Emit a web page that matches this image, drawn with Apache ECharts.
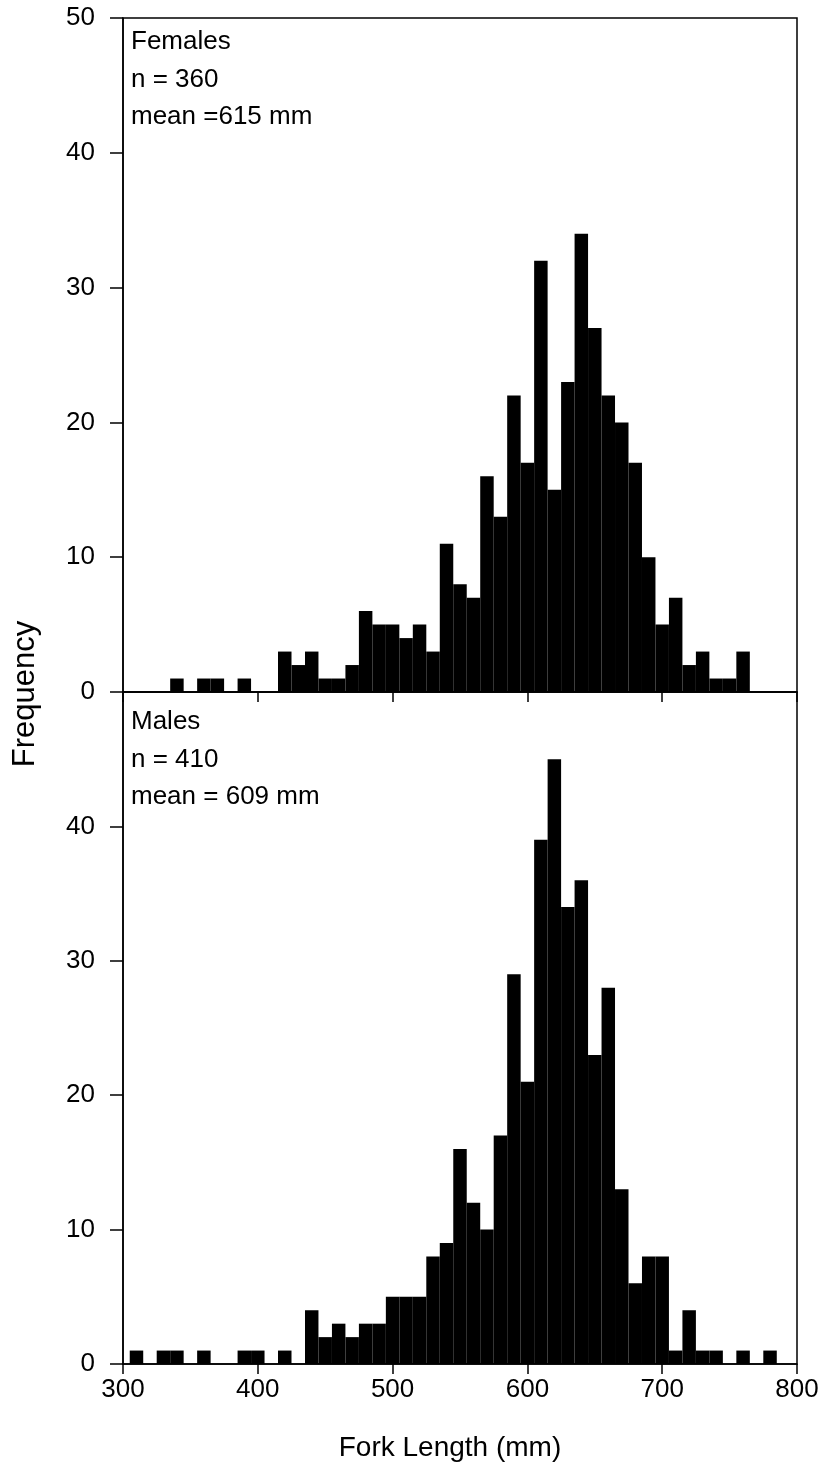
<!DOCTYPE html>
<html>
<head>
<meta charset="utf-8">
<script src="https://cdn.jsdelivr.net/npm/echarts@6/dist/echarts.min.js"></script>
<style>
  html, body { margin: 0; padding: 0; background: #fff; }
  #chart { width: 824px; height: 1482px; }
</style>
</head>
<body>
<div id="chart"></div>
<script>
// Fork length histograms, 10 mm bins (values are bin centres in mm)
const binWidth = 10;

const femaleCenters = [340, 360, 370, 390, 420, 430, 440, 450, 460, 470, 480, 490, 500, 510, 520, 530,
  540, 550, 560, 570, 580, 590, 600, 610, 620, 630, 640, 650, 660, 670, 680, 690, 700, 710, 720, 730,
  740, 750, 760];
const femaleCounts = [1, 1, 1, 1, 3, 2, 3, 1, 1, 2, 6, 5, 5, 4, 5, 3,
  11, 8, 7, 16, 13, 22, 17, 32, 15, 23, 34, 27, 22, 20, 17, 10, 5, 7, 2, 3,
  1, 1, 3];

const maleCenters = [310, 330, 340, 360, 390, 400, 420, 440, 450, 460, 470, 480, 490, 500, 510, 520,
  530, 540, 550, 560, 570, 580, 590, 600, 610, 620, 630, 640, 650, 660, 670, 680, 690, 700, 710, 720,
  730, 740, 760, 780];
const maleCounts = [1, 1, 1, 1, 1, 1, 1, 4, 2, 3, 2, 3, 3, 5, 5, 5,
  8, 9, 16, 12, 10, 17, 29, 21, 39, 45, 34, 36, 23, 28, 13, 6, 8, 8, 1, 4,
  1, 1, 1, 1];

const xTicks = [300, 400, 500, 600, 700, 800];
const yTicks = [0, 10, 20, 30, 40, 50];

const femaleNotes = ['Females', 'n = 360', 'mean =615 mm'];
const maleNotes = ['Males', 'n = 410', 'mean = 609 mm'];
const yTitle = 'Frequency';
const xTitle = 'Fork Length (mm)';

const FONT = '"Liberation Sans", Arial, Helvetica, sans-serif';
const INK = '#000';

const chart = echarts.init(document.getElementById('chart'), null, { renderer: 'canvas' });

function pairs(xs, ys) { return xs.map((x, i) => [x, ys[i]]); }

// one filled rectangle per bin, spanning the bin edges on the value axis
function renderBin(params, api) {
  const c = api.value(0);
  const v = api.value(1);
  const p0 = api.coord([c - binWidth / 2, v]);
  const p1 = api.coord([c + binWidth / 2, 0]);
  return {
    type: 'rect',
    shape: { x: p0[0], y: p0[1], width: p1[0] - p0[0], height: p1[1] - p0[1] },
    style: { fill: INK }
  };
}

function xAxisFor(gridIndex, showLabels) {
  return {
    type: 'value', gridIndex,
    min: xTicks[0], max: xTicks[xTicks.length - 1], interval: 100,
    axisLine: { show: true, onZero: false, lineStyle: { color: INK, width: 1.5 } },
    axisTick: { show: true, inside: false, length: 10, lineStyle: { color: INK, width: 1.5 } },
    axisLabel: { show: showLabels, color: INK, fontFamily: FONT, fontSize: 26, margin: 13 },
    splitLine: { show: false }
  };
}

function yAxisFor(gridIndex, showMax) {
  return {
    type: 'value', gridIndex,
    min: yTicks[0], max: yTicks[yTicks.length - 1], interval: 10,
    axisLine: { show: true, lineStyle: { color: INK, width: 1.5 } },
    axisTick: { show: true, inside: false, length: 13, lineStyle: { color: INK, width: 1.5 } },
    axisLabel: { color: INK, fontFamily: FONT, fontSize: 26, margin: 28, showMaxLabel: showMax },
    splitLine: { show: false }
  };
}

function noteTexts(lines, x, y0, step) {
  return lines.map((t, i) => ({
    type: 'text', x, y: y0 + i * step,
    style: { text: t, fill: INK, font: '26px ' + FONT, textAlign: 'left', textVerticalAlign: 'middle' }
  }));
}

const option = {
  backgroundColor: '#fff',
  animation: false,
  grid: [
    { left: 123, top: 18, width: 674, height: 674, show: true, borderColor: INK, borderWidth: 1.5, backgroundColor: 'transparent' },
    { left: 123, top: 692, width: 674, height: 672, show: true, borderColor: INK, borderWidth: 1.5, backgroundColor: 'transparent' }
  ],
  xAxis: [xAxisFor(0, false), xAxisFor(1, true)],
  yAxis: [yAxisFor(0, true), yAxisFor(1, false)],
  series: [
    { type: 'custom', xAxisIndex: 0, yAxisIndex: 0, renderItem: renderBin, encode: { x: 0, y: 1 }, data: pairs(femaleCenters, femaleCounts), z: 1 },
    { type: 'custom', xAxisIndex: 1, yAxisIndex: 1, renderItem: renderBin, encode: { x: 0, y: 1 }, data: pairs(maleCenters, maleCounts), z: 1 }
  ],
  graphic: [
    ...noteTexts(femaleNotes, 131, 42, 37.5),
    ...noteTexts(maleNotes, 131, 722, 37.5),
    {
      type: 'text', x: 25, y: 694, rotation: Math.PI / 2,
      style: { text: yTitle, fill: INK, font: '31px ' + FONT, textAlign: 'center', textVerticalAlign: 'middle' }
    },
    {
      type: 'text', x: 450, y: 1448,
      style: { text: xTitle, fill: INK, font: '28px ' + FONT, textAlign: 'center', textVerticalAlign: 'middle' }
    }
  ]
};

chart.setOption(option);
</script>
</body>
</html>
